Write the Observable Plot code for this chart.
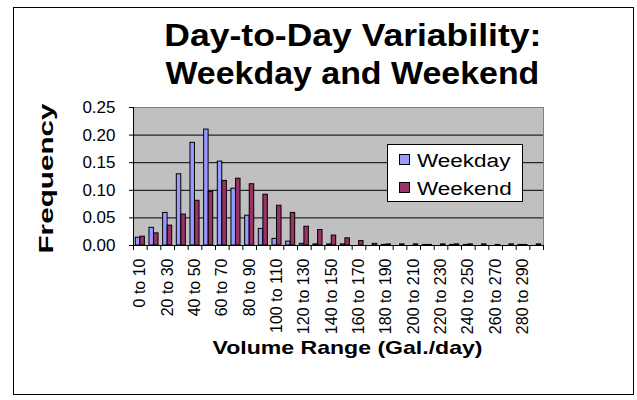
<!DOCTYPE html>
<html>
<head>
<meta charset="utf-8">
<script src="https://cdn.jsdelivr.net/npm/d3@7"></script>
<script src="https://cdn.jsdelivr.net/npm/@observablehq/plot@0.6"></script>
<style>
  html, body { margin: 0; padding: 0; background: #fff; }
  #wrap { position: relative; width: 637px; height: 400px; overflow: hidden; font-family: "Liberation Sans", Arial, sans-serif; }
  #border { position: absolute; left: 13px; top: 7px; width: 619px; height: 386px; border: 1px solid #000; pointer-events: none; }
  #titlebox { position: relative; height: 95px; }
  .tline { position: absolute; left: 0; width: 637px; text-align: center; font-weight: bold; font-size: 32px; line-height: 32px; white-space: nowrap; }
  .tline span { display: inline-block; transform: scaleX(1.08); }
  #chart svg { display: block; }
  .legend { position: absolute; left: 387px; top: 144px; width: 134px; height: 56px; border: 1px solid #000; background: #fff; }
  .sw { position: absolute; left: 11px; width: 9px; height: 9px; border: 1px solid #000; }
  .lt { position: absolute; left: 29px; font-size: 18px; line-height: 18px; white-space: nowrap; transform: scaleX(1.25); transform-origin: left center; }
</style>
</head>
<body>
<div id="wrap">
  <div id="titlebox">
    <div class="tline" style="top:19px; left:34px;"><span style="transform:scaleX(1.11)">Day-to-Day Variability:</span></div>
    <div class="tline" style="top:57px; left:34px;"><span style="transform:scaleX(1.06)">Weekday and Weekend</span></div>
  </div>
  <div id="chart"></div>
  <div class="legend">
    <div class="sw" style="top:9px; background:#9999ff;"></div>
    <div class="lt" style="top:7px;">Weekday</div>
    <div class="sw" style="top:37px; background:#993366;"></div>
    <div class="lt" style="top:35px;">Weekend</div>
  </div>
  <div id="border"></div>
</div>
<script>
const categories = ["0 to 10","10 to 20","20 to 30","30 to 40","40 to 50","50 to 60","60 to 70","70 to 80","80 to 90","90 to 100",
  "100 to 110","110 to 120","120 to 130","130 to 140","140 to 150","150 to 160","160 to 170","170 to 180","180 to 190","190 to 200",
  "200 to 210","210 to 220","220 to 230","230 to 240","240 to 250","250 to 260","260 to 270","270 to 280","280 to 290","290 to 300"];
const weekday = [0.014,0.032,0.059,0.129,0.186,0.210,0.152,0.103,0.054,0.030,
  0.012,0.007,0.003,0.002,0.002,0.002,0.000,0.000,0.001,0.000,
  0.000,0.001,0.000,0.001,0.001,0.000,0.000,0.000,0.001,0.000];
const weekend = [0.016,0.022,0.036,0.056,0.081,0.097,0.117,0.121,0.111,0.092,
  0.072,0.059,0.034,0.028,0.018,0.013,0.008,0.003,0.002,0.002,
  0.002,0.001,0.002,0.002,0.002,0.002,0.001,0.002,0.001,0.002];
const yTicks = [0, 0.05, 0.10, 0.15, 0.20, 0.25];
const seriesNames = ["Weekday", "Weekend"];
const seriesColors = ["#9999ff", "#993366"];

const rows = [];
categories.forEach((c, i) => {
  rows.push({i, category: c, series: "Weekday", value: weekday[i]});
  rows.push({i, category: c, series: "Weekend", value: weekend[i]});
});
const labelIdx = categories.map((c, i) => i).filter(i => i % 2 === 0);

const chart = Plot.plot({
  width: 637,
  height: 305,
  marginLeft: 133,
  marginRight: 94,
  marginTop: 12,
  marginBottom: 155,
  x: {type: "linear", domain: [0, categories.length]},
  y: {domain: [0, 0.25]},
  style: {fontFamily: "'Liberation Sans', Arial, sans-serif", background: "transparent", color: "#000"},
  marks: [
    Plot.frame({fill: "#c0c0c0", stroke: "#808080"}),
    Plot.gridY(yTicks.filter(v => v > 0 && v < 0.25), {stroke: "#000", strokeOpacity: 1}),
    Plot.rectY(rows.filter(d => d.series === "Weekday" && d.value > 0), {
      x1: "i", x2: d => d.i + 1, y: "value", fill: seriesColors[0], stroke: "#000", strokeWidth: 1,
      insetLeft: 2.3, insetRight: 6.9
    }),
    Plot.rectY(rows.filter(d => d.series === "Weekend" && d.value > 0), {
      x1: "i", x2: d => d.i + 1, y: "value", fill: seriesColors[1], stroke: "#000", strokeWidth: 1,
      insetLeft: 6.9, insetRight: 2.3
    }),
    Plot.ruleY([0], {stroke: "#000"}),
    Plot.ruleX([0], {stroke: "#000"}),
    Plot.axisY({ticks: yTicks, tickFormat: d3.format(".2f"), tickSize: 4, tickPadding: 14, fontSize: 17, label: null}),
    Plot.axisX({ticks: d3.range(categories.length + 1), tickSize: 5, tickFormat: () => "", label: null}),
    Plot.axisX({ticks: labelIdx.map(i => i + 0.5), tickSize: 0, tickPadding: 13, tickRotate: -90,
      tickFormat: v => categories[Math.floor(v)], fontSize: 16, label: null}),
    Plot.text(["Frequency"], {frameAnchor: "left", dx: -87, dy: 77, rotate: -90, textAnchor: "start", fontSize: 21, fontWeight: "bold", className: "freq"}),
    Plot.text(["Volume Range (Gal./day)"], {frameAnchor: "bottom", dx: -126, dy: 108, textAnchor: "start", fontSize: 19, fontWeight: "bold", className: "xlab"})
  ]
});
document.getElementById("chart").appendChild(chart);
d3.select(chart).selectAll(".freq text").attr("textLength", 150).attr("lengthAdjust", "spacingAndGlyphs");
d3.select(chart).selectAll(".xlab text").attr("textLength", 270).attr("lengthAdjust", "spacingAndGlyphs");
</script>
</body>
</html>
